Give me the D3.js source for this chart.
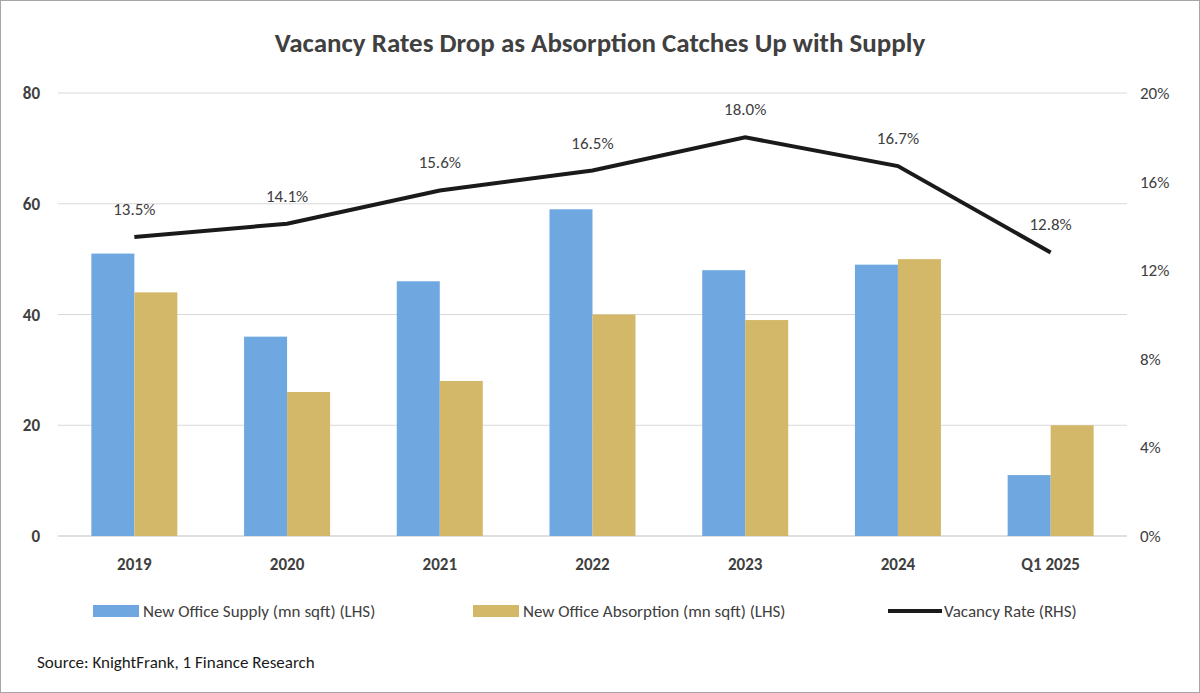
<!DOCTYPE html>
<html><head><meta charset="utf-8">
<script src="https://cdn.jsdelivr.net/npm/d3@7"></script>
<style>body{margin:0;background:#fff}svg{font-family:Calibri,Carlito,"Liberation Sans",sans-serif}</style>
</head><body>
<svg id="chart" width="1200" height="693"></svg>
<script>
const categories = ["2019", "2020", "2021", "2022", "2023", "2024", "Q1 2025"];
const supply = [51, 36, 46, 59, 48, 49, 11];
const absorption = [44, 26, 28, 40, 39, 50, 20];
const vacancy = [13.5, 14.1, 15.6, 16.5, 18.0, 16.7, 12.8];
const leftTicks = [0, 20, 40, 60, 80];
const rightTicks = [0, 4, 8, 12, 16, 20];

const svg = d3.select("#chart");
const plotLeft = 58, plotRight = 1127, plotTop = 93, plotBottom = 536;
const blue = "#6fa8e0", gold = "#d4b86a", ink = "#404040";

svg.append("rect").attr("x", 0.5).attr("y", 0.5).attr("width", 1199).attr("height", 692)
  .attr("fill", "#fff").attr("stroke", "#a6a6a6");

svg.append("text").attr("x", 600).attr("y", 52).attr("text-anchor", "middle")
  .attr("font-size", 27).attr("font-weight", "bold").attr("fill", ink)
  .text("Vacancy Rates Drop as Absorption Catches Up with Supply");

const x = d3.scaleBand().domain(categories).range([plotLeft, plotRight]);
const y = d3.scaleLinear().domain([0, 80]).range([plotBottom, plotTop]);
const y2 = d3.scaleLinear().domain([0, 20]).range([plotBottom, plotTop]);
const bw = 43;

svg.append("g").selectAll("line").data(leftTicks).join("line")
  .attr("x1", plotLeft).attr("x2", plotRight).attr("y1", d => y(d)).attr("y2", d => y(d))
  .attr("stroke", d => d === 0 ? "#bfbfbf" : "#d9d9d9");

svg.append("g").selectAll("text").data(leftTicks).join("text")
  .attr("x", 40).attr("y", d => y(d) + 6).attr("text-anchor", "end")
  .attr("font-size", 17).attr("font-weight", "bold").attr("fill", ink).text(d => d);

svg.append("g").selectAll("text").data(rightTicks).join("text")
  .attr("x", 1140).attr("y", d => y2(d) + 6)
  .attr("font-size", 17).attr("fill", ink).text(d => d + "%");

const center = c => x(c) + x.bandwidth() / 2;

svg.append("g").selectAll("rect").data(categories).join("rect")
  .attr("x", c => center(c) - bw).attr("width", bw)
  .attr("y", (c, i) => y(supply[i])).attr("height", (c, i) => plotBottom - y(supply[i]))
  .attr("fill", blue);
svg.append("g").selectAll("rect").data(categories).join("rect")
  .attr("x", c => center(c)).attr("width", bw)
  .attr("y", (c, i) => y(absorption[i])).attr("height", (c, i) => plotBottom - y(absorption[i]))
  .attr("fill", gold);

svg.append("g").selectAll("text").data(categories).join("text")
  .attr("x", center).attr("y", 570).attr("text-anchor", "middle")
  .attr("font-size", 17).attr("font-weight", "bold").attr("fill", ink).text(d => d);

const line = d3.line().x((d, i) => center(categories[i])).y(d => y2(d));
svg.append("path").datum(vacancy).attr("d", line)
  .attr("fill", "none").attr("stroke", "#1a1a1a").attr("stroke-width", 4);

svg.append("g").selectAll("text").data(vacancy).join("text")
  .attr("x", (d, i) => center(categories[i])).attr("y", d => y2(d) - 22)
  .attr("text-anchor", "middle").attr("font-size", 17).attr("fill", ink)
  .text(d => d.toFixed(1) + "%");

const legend = [
  {label: "New Office Supply (mn sqft) (LHS)", color: blue, x: 93, type: "rect"},
  {label: "New Office Absorption (mn sqft) (LHS)", color: gold, x: 473, type: "rect"},
  {label: "Vacancy Rate (RHS)", color: "#1a1a1a", x: 888, type: "line"}
];
const lg = svg.append("g").selectAll("g").data(legend).join("g")
  .attr("transform", d => `translate(${d.x},611)`);
lg.filter(d => d.type === "rect").append("rect")
  .attr("x", 0).attr("y", -6).attr("width", 46).attr("height", 12).attr("fill", d => d.color);
lg.filter(d => d.type === "line").append("line")
  .attr("x1", 0).attr("x2", 54).attr("stroke", d => d.color).attr("stroke-width", 4);
lg.append("text").attr("x", d => d.type === "line" ? 56 : 50).attr("y", 6)
  .attr("font-size", 17).attr("fill", ink).text(d => d.label);

svg.append("text").attr("x", 37).attr("y", 668).attr("font-size", 17).attr("fill", "#1a1a1a")
  .text("Source: KnightFrank, 1 Finance Research");
</script>
</body></html>
